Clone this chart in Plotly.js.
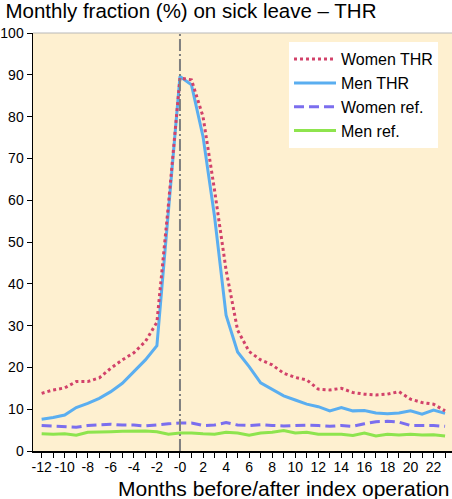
<!DOCTYPE html>
<html>
<head>
<meta charset="utf-8">
<script src="https://cdn.plot.ly/plotly-3.0.1.min.js"></script>
<style>html,body{margin:0;padding:0;background:#fff;}#chart{width:452px;height:499px;}</style>
</head>
<body>
<div id="chart"></div>
<script>
const months = [-12,-11,-10,-9,-8,-7,-6,-5,-4,-3,-2,-1,0,1,2,3,4,5,6,7,8,9,10,11,12,13,14,15,16,17,18,19,20,21,22,23];
const womenTHR = [13.8,14.6,15.1,16.6,16.6,17.5,19.8,21.8,23.5,26.2,30.8,59,89.2,88.8,80.0,62.4,43.3,28.9,23.8,21.8,20.6,18.6,17.6,17.0,14.8,14.6,15.0,14.0,13.6,13.4,13.6,14.2,12.4,11.6,11.2,9.6];
const menTHR = [7.6,8.0,8.6,10.4,11.4,12.6,14.2,16.2,19.0,21.8,25.2,57,89.6,87.6,75.2,56.1,32.5,23.7,20.2,16.3,14.8,13.2,12.2,11.2,10.6,9.6,10.4,9.6,9.7,9.1,8.9,9.1,9.6,8.8,9.8,9.0];
const womenRef = [6.1,6.0,5.9,5.7,6.1,6.3,6.4,6.2,6.2,6.0,6.3,6.5,6.7,6.7,6.1,6.2,6.8,6.2,6.1,6.3,6.1,6.0,6.1,6.2,6.1,5.9,6.1,5.9,6.5,7.0,7.1,6.9,6.1,6.1,6.1,5.9];
const menRef = [4.1,4.0,4.1,3.8,4.5,4.5,4.6,4.7,4.7,4.8,4.6,4.0,4.3,4.3,4.1,4.0,4.5,4.3,3.8,4.3,4.5,4.9,4.3,4.5,4.0,4.0,4.0,3.7,4.3,3.6,4.0,3.8,4.0,3.8,3.9,3.6];
const seriesNames = ["Women THR","Men THR","Women ref.","Men ref."];
const xTickVals = [-12,-10,-8,-6,-4,-2,0,2,4,6,8,10,12,14,16,18,20,22];
const xTickText = ["-12","-10","-8","-6","-4","-2","-0","2","4","6","8","10","12","14","16","18","20","22"];
const yTickVals = [0,10,20,30,40,50,60,70,80,90,100];
const titleText = "Monthly fraction (%) on sick leave – THR";
const xTitleText = "Months before/after index operation";

const FONT = '"Liberation Sans", Arial, Helvetica, sans-serif';

const traces = [
  {x: months, y: menRef, name: seriesNames[3], mode: 'lines', legendrank: 4,
   line: {color: '#8EE44E', width: 3}},
  {x: months, y: womenRef, name: seriesNames[2], mode: 'lines', legendrank: 3,
   line: {color: '#7B6EEE', width: 3, dash: '10px,5px'}},
  {x: months, y: menTHR, name: seriesNames[1], mode: 'lines', legendrank: 2,
   line: {color: '#5AAEF0', width: 3}},
  {x: months, y: womenTHR, name: seriesNames[0], mode: 'lines', legendrank: 1,
   line: {color: '#D2426A', width: 3, dash: 'dot'}}
];

const layout = {
  width: 452, height: 499,
  margin: {l: 33, r: 0, t: 33, b: 48, pad: 0},
  paper_bgcolor: '#ffffff',
  plot_bgcolor: '#FEF0D0',
  font: {family: FONT, color: '#000', size: 15},
  title: {text: titleText, font: {family: FONT, size: 20.5, color: '#000'},
          xref: 'container', x: 0.012, xanchor: 'left',
          yref: 'container', y: 0.993, yanchor: 'top'},
  showlegend: true,
  legend: {x: 0.611, y: 0.978, xanchor: 'left', yanchor: 'top',
           bgcolor: '#ffffff', borderwidth: 0, itemwidth: 42,
           font: {family: FONT, size: 16, color: '#000'}},
  xaxis: {
    range: [-12.75, 23.6], showgrid: false, zeroline: false,
    showline: true, linecolor: '#000', linewidth: 1.5,
    ticks: 'outside', ticklen: 5, tickwidth: 1, tickcolor: '#000',
    tickmode: 'array', tickvals: xTickVals, ticktext: xTickText, tickangle: 0,
    ticklabelstandoff: -2,
    minor: {tickmode: 'linear', tick0: 0, dtick: 1, ticks: 'outside', ticklen: 5, tickwidth: 1, tickcolor: '#000', showgrid: false},
    tickfont: {family: FONT, size: 14, color: '#000'}
  },
  yaxis: {
    range: [0, 100], showgrid: false, zeroline: false,
    showline: true, linecolor: '#000', linewidth: 1.5,
    ticks: 'outside', ticklen: 5, tickwidth: 1, tickcolor: '#000',
    tickmode: 'array', tickvals: yTickVals,
    tickfont: {family: FONT, size: 14, color: '#000'}
  },
  shapes: [
    {type: 'line', xref: 'x', yref: 'paper', x0: 0, x1: 0, y0: 0, y1: 1,
     line: {color: '#7F7F7F', width: 2, dash: '12px,3px,2px,3px'}},
    {type: 'line', xref: 'paper', yref: 'paper', x0: 0, x1: 1, y0: 1, y1: 1,
     line: {color: '#B8B8B8', width: 1}}
  ],
  annotations: [
    {text: xTitleText, xref: 'paper', yref: 'paper', x: 1, y: -0.09,
     xanchor: 'right', yanchor: 'middle', showarrow: false,
     font: {family: FONT, size: 21, color: '#000'}}
  ]
};

Plotly.newPlot('chart', traces, layout, {displayModeBar: false, staticPlot: true});
</script>
</body>
</html>
